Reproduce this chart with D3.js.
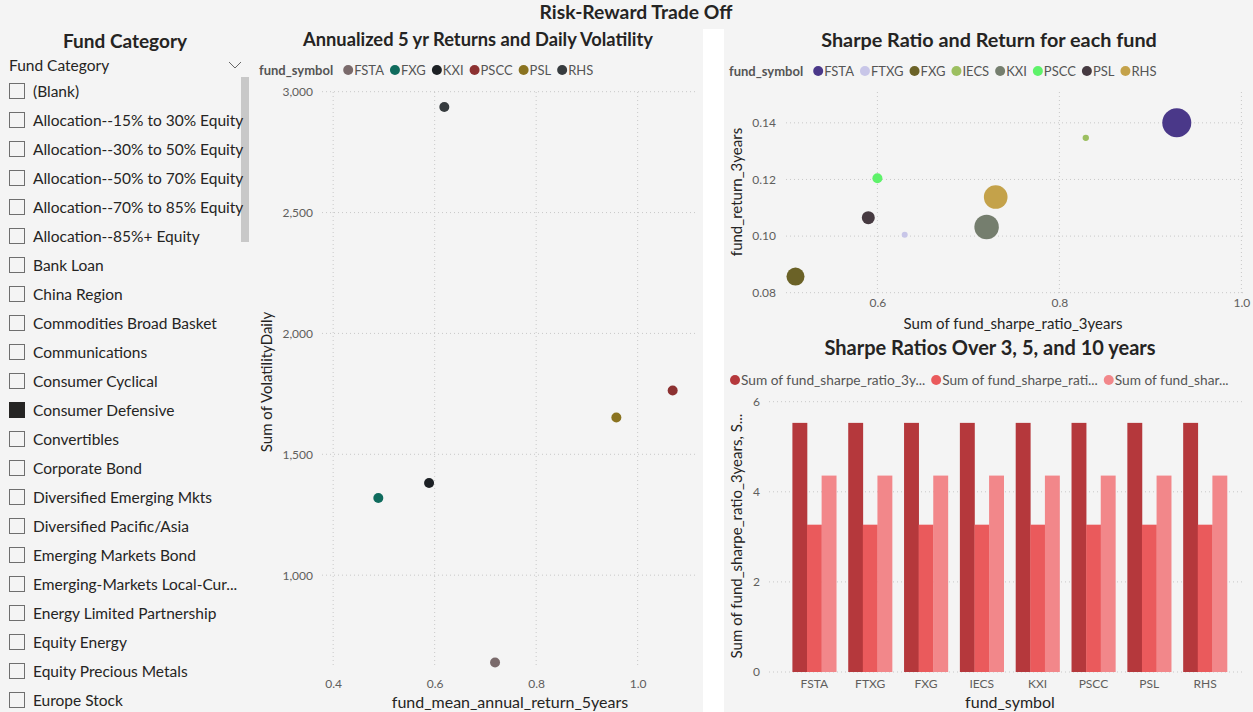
<!DOCTYPE html>
<html><head><meta charset="utf-8">
<script src="https://cdn.jsdelivr.net/npm/d3@7/dist/d3.min.js"></script>
<style>
html,body{margin:0;padding:0;background:#f4f4f4;}
svg{display:block;font-family:Lato,"Noto Sans",sans-serif;}
</style></head>
<body>
<svg id="c" width="1253" height="712"></svg>
<script>
// ---------- DATA ----------
const fundCategories = ["(Blank)","Allocation--15% to 30% Equity","Allocation--30% to 50% Equity","Allocation--50% to 70% Equity","Allocation--70% to 85% Equity","Allocation--85%+ Equity","Bank Loan","China Region","Commodities Broad Basket","Communications","Consumer Cyclical","Consumer Defensive","Convertibles","Corporate Bond","Diversified Emerging Mkts","Diversified Pacific/Asia","Emerging Markets Bond","Emerging-Markets Local-Cur...","Energy Limited Partnership","Equity Energy","Equity Precious Metals","Europe Stock"];
const selectedCategories = ["Consumer Defensive"];

const volSymbols = ["FSTA","FXG","KXI","PSCC","PSL","RHS"];
const volReturn5y = [0.719,0.489,0.589,1.069,0.958,0.619];
const volDaily = [639,1319,1381,1764,1652,2937];
const volColors = ["#7a6a6b","#0f6b5d","#1c2024","#8c3131","#8a7320","#363b3e"];
const volXTicks = [0.4,0.6,0.8,1.0];
const volYTicks = [1000,1500,2000,2500,3000];

const srSymbols = ["FSTA","FTXG","FXG","IECS","KXI","PSCC","PSL","RHS"];
const srSharpe3y = [0.929,0.630,0.510,0.829,0.720,0.600,0.590,0.730];
const srReturn3y = [0.1400,0.1005,0.0857,0.1347,0.1032,0.1204,0.1065,0.1138];
const srBubble = [210,9,81,10,150,25,42,140];
const srColors = ["#4a3889","#c8c6e8","#6b6227","#9cbf60","#757e6e","#5ef26a","#463a41","#c4a24a"];
const srXTicks = [0.6,0.8,1.0];
const srYTicks = [0.08,0.10,0.12,0.14];

const barSymbols = ["FSTA","FTXG","FXG","IECS","KXI","PSCC","PSL","RHS"];
const sharpe3y = [5.53,5.53,5.53,5.53,5.53,5.53,5.53,5.53];
const sharpe5y = [3.27,3.27,3.27,3.27,3.27,3.27,3.27,3.27];
const sharpe10y = [4.36,4.36,4.36,4.36,4.36,4.36,4.36,4.36];
const barSeriesLabels = ["Sum of fund_sharpe_ratio_3y...","Sum of fund_sharpe_rati...","Sum of fund_shar..."];
const barColors = ["#b5383c","#ea5a5c","#f2878a"];
const barYTicks = [0,2,4,6];

// ---------- DRAW ----------
const svg = d3.select("#c");
const TXT = "#252423", TICK = "#605e5c", GRID = "#c8c8c8";

svg.append("rect").attr("x",0).attr("y",0).attr("width",1253).attr("height",712).attr("fill","#f4f4f4");
svg.append("rect").attr("x",703).attr("y",29).attr("width",21).attr("height",683).attr("fill","#ffffff");

svg.append("text").attr("x",636).attr("y",19).attr("text-anchor","middle")
  .attr("font-size",19.3).attr("font-weight","bold").attr("fill",TXT).text("Risk-Reward Trade Off");

// ---- Slicer ----
svg.append("text").attr("x",125).attr("y",48).attr("text-anchor","middle")
  .attr("font-size",19).attr("font-weight","bold").attr("fill",TXT).text("Fund Category");
svg.append("text").attr("x",9).attr("y",71).attr("font-size",15.5).attr("fill",TXT).text("Fund Category");
svg.append("path").attr("d","M229,62 L235,68 L241,62").attr("fill","none").attr("stroke","#666").attr("stroke-width",1);
svg.append("rect").attr("x",241).attr("y",77).attr("width",8).attr("height",165).attr("fill","#c8c8c8");
const rowY = d3.scalePoint().domain(fundCategories).range([91,700]);
const rows = svg.append("g").selectAll("g").data(fundCategories).join("g")
  .attr("transform",d=>`translate(0,${rowY(d)})`);
rows.append("rect").attr("x",9.5).attr("y",-7.5).attr("width",15).attr("height",15)
  .attr("fill",d=>selectedCategories.includes(d)?"#252423":"none")
  .attr("stroke",d=>selectedCategories.includes(d)?"#252423":"#6f6f6f").attr("stroke-width",1);
rows.append("text").attr("x",33).attr("y",5.5).attr("font-size",15.5).attr("fill",TXT).text(d=>d);

// helper legend
function legend(g, x, y, title, names, colors, fs, gap){
  let cx = x;
  if(title){
    const t = g.append("text").attr("x",cx).attr("y",y+4.5).attr("font-size",fs).attr("font-weight","bold").attr("fill","#555").text(title);
    cx += t.node().getComputedTextLength() + 10;
  }
  names.forEach((n,i)=>{
    g.append("circle").attr("cx",cx+5).attr("cy",y).attr("r",5).attr("fill",colors[i]);
    const t = g.append("text").attr("x",cx+11).attr("y",y+4.5).attr("font-size",fs).attr("fill","#555").text(n);
    cx += 11 + t.node().getComputedTextLength() + gap;
  });
}

// ---- Middle scatter ----
{
  const g = svg.append("g");
  g.append("text").attr("x",478).attr("y",46).attr("text-anchor","middle").attr("font-size",18.3).attr("font-weight","bold").attr("fill",TXT)
    .text("Annualized 5 yr Returns and Daily Volatility");
  legend(g,259,70,"fund_symbol",volSymbols,volColors,13,6);
  const x = d3.scaleLinear().domain([0.378,1.113]).range([322,695]);
  const y = d3.scaleLinear().domain([616,3000]).range([668,91.7]);
  g.append("g").selectAll("line").data(volYTicks).join("line")
    .attr("x1",322).attr("x2",695).attr("y1",d=>y(d)).attr("y2",d=>y(d))
    .attr("stroke",GRID).attr("stroke-dasharray","1,3");
  g.append("g").selectAll("line").data(volXTicks).join("line")
    .attr("y1",92).attr("y2",668).attr("x1",d=>x(d)).attr("x2",d=>x(d))
    .attr("stroke",GRID).attr("stroke-dasharray","1,3");
  const ya = g.append("g").attr("transform","translate(313,0)")
    .call(d3.axisLeft(y).tickValues(volYTicks).tickFormat(d3.format(",")).tickSize(0).tickPadding(0));
  ya.select(".domain").remove();
  ya.selectAll("text").attr("font-size",12).attr("fill",TICK).attr("font-family","Lato");
  const xa = g.append("g").attr("transform","translate(0,679)")
    .call(d3.axisBottom(x).tickValues(volXTicks).tickFormat(d3.format(".1f")).tickSize(0).tickPadding(0));
  xa.select(".domain").remove();
  xa.selectAll("text").attr("font-size",12).attr("fill",TICK).attr("font-family","Lato");
  g.append("text").attr("x",510).attr("y",708).attr("text-anchor","middle").attr("font-size",16).attr("fill",TXT).text("fund_mean_annual_return_5years");
  g.append("text").attr("transform","translate(272,382) rotate(-90)").attr("text-anchor","middle").attr("font-size",15).attr("fill",TXT).text("Sum of VolatilityDaily");
  g.append("g").selectAll("circle").data(volSymbols).join("circle")
    .attr("cx",(d,i)=>x(volReturn5y[i])).attr("cy",(d,i)=>y(volDaily[i])).attr("r",5).attr("fill",(d,i)=>volColors[i]);
}

// ---- Right-top bubble ----
{
  const g = svg.append("g");
  g.append("text").attr("x",989).attr("y",47).attr("text-anchor","middle").attr("font-size",19.8).attr("font-weight","bold").attr("fill",TXT)
    .text("Sharpe Ratio and Return for each fund");
  legend(g,729,71,"fund_symbol",srSymbols,srColors,13,6);
  const x = d3.scaleLinear().domain([0.5,1.0]).range([786.4,1241.4]);
  const y = d3.scaleLinear().domain([0.08,0.151]).range([292.7,91.7]);
  const r = d3.scaleSqrt().domain([0,210]).range([0,14.5]);
  g.append("g").selectAll("line").data(srYTicks).join("line")
    .attr("x1",786).attr("x2",1245).attr("y1",d=>y(d)).attr("y2",d=>y(d))
    .attr("stroke",GRID).attr("stroke-dasharray","1,3");
  g.append("g").selectAll("line").data(srXTicks).join("line")
    .attr("y1",92).attr("y2",293).attr("x1",d=>x(d)).attr("x2",d=>x(d))
    .attr("stroke",GRID).attr("stroke-dasharray","1,3");
  const ya = g.append("g").attr("transform","translate(776,0)")
    .call(d3.axisLeft(y).tickValues(srYTicks).tickFormat(d3.format(".2f")).tickSize(0).tickPadding(0));
  ya.select(".domain").remove();
  ya.selectAll("text").attr("font-size",12).attr("fill",TICK).attr("font-family","Lato");
  const xa = g.append("g").attr("transform","translate(0,298)")
    .call(d3.axisBottom(x).tickValues(srXTicks).tickFormat(d3.format(".1f")).tickSize(0).tickPadding(0));
  xa.select(".domain").remove();
  xa.selectAll("text").attr("font-size",12).attr("fill",TICK).attr("font-family","Lato");
  g.append("text").attr("x",1013).attr("y",329).attr("text-anchor","middle").attr("font-size",15).attr("fill",TXT).text("Sum of fund_sharpe_ratio_3years");
  g.append("text").attr("transform","translate(742,192) rotate(-90)").attr("text-anchor","middle").attr("font-size",15).attr("fill",TXT).text("fund_return_3years");
  g.append("g").selectAll("circle").data(srSymbols).join("circle")
    .attr("cx",(d,i)=>x(srSharpe3y[i])).attr("cy",(d,i)=>y(srReturn3y[i])).attr("r",(d,i)=>r(srBubble[i])).attr("fill",(d,i)=>srColors[i]);
}

// ---- Right-bottom bars ----
{
  const g = svg.append("g");
  g.append("text").attr("x",990).attr("y",355).attr("text-anchor","middle").attr("font-size",20).attr("font-weight","bold").attr("fill",TXT)
    .text("Sharpe Ratios Over 3, 5, and 10 years");
  // legend
  let cx = 730;
  barSeriesLabels.forEach((l,i)=>{
    g.append("circle").attr("cx",cx+5).attr("cy",380).attr("r",5).attr("fill",barColors[i]);
    const t = g.append("text").attr("x",cx+11).attr("y",384.5).attr("font-size",13.7).attr("fill","#555").text(l);
    cx += 11 + t.node().getComputedTextLength() + 6;
  });
  const x = d3.scaleBand().domain(barSymbols).range([786.4,1233]).paddingInner(0.215).paddingOuter(0.1075);
  const sub = d3.scaleBand().domain([0,1,2]).range([0,x.bandwidth()]);
  const y = d3.scaleLinear().domain([0,6]).range([672,401.7]);
  g.append("g").selectAll("line").data(barYTicks).join("line")
    .attr("x1",769).attr("x2",1245).attr("y1",d=>y(d)).attr("y2",d=>y(d))
    .attr("stroke",GRID).attr("stroke-dasharray","1,3");
  const series = [sharpe3y,sharpe5y,sharpe10y];
  series.forEach((vals,s)=>{
    g.append("g").selectAll("rect").data(barSymbols).join("rect")
      .attr("x",(d)=>x(d)+sub(s)).attr("width",sub.bandwidth()+0.3)
      .attr("y",(d,i)=>y(vals[i])).attr("height",(d,i)=>y(0)-y(vals[i]))
      .attr("fill",barColors[s]);
  });
  const ya = g.append("g").attr("transform","translate(760,0)")
    .call(d3.axisLeft(y).tickValues(barYTicks).tickFormat(d3.format("d")).tickSize(0).tickPadding(0));
  ya.select(".domain").remove();
  ya.selectAll("text").attr("font-size",12).attr("fill",TICK).attr("font-family","Lato");
  const xa = g.append("g").attr("transform","translate(0,679)")
    .call(d3.axisBottom(x).tickSize(0).tickPadding(0));
  xa.select(".domain").remove();
  xa.selectAll("text").attr("font-size",12).attr("fill",TICK).attr("font-family","Lato");
  g.append("text").attr("x",1010).attr("y",708).attr("text-anchor","middle").attr("font-size",16).attr("fill",TXT).text("fund_symbol");
  g.append("text").attr("transform","translate(742,536) rotate(-90)").attr("text-anchor","middle").attr("font-size",15).attr("fill",TXT).text("Sum of fund_sharpe_ratio_3years, S...");
}
</script>
</body></html>
